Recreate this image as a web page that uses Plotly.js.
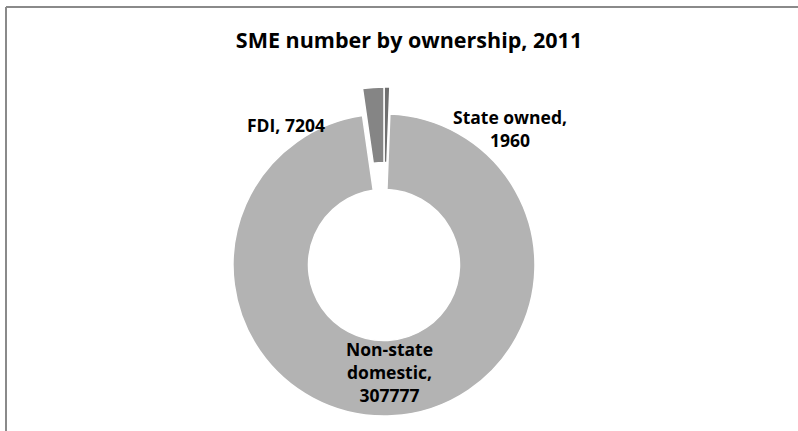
<!DOCTYPE html>
<html>
<head>
<meta charset="utf-8">
<script src="https://cdn.plot.ly/plotly-3.0.1.min.js"></script>
<style>
html,body{margin:0;padding:0;background:#fff;}
#chart{width:798px;height:431px;}
</style>
</head>
<body>
<div id="chart"></div>
<script>
// Data (clockwise from 12 o'clock)
const labels = ['State owned', 'Non-state domestic', 'FDI'];
const values = [1960, 307777, 7204];
const wrappedLabels = ['State owned', 'Non-state<br>domestic', 'FDI'];
const separators = [',<br>', ',<br>', ', '];
const exploded = [true, false, true];
const sliceColors = ['#6f6f6f', '#b3b3b3', '#858585'];

const W = 798, H = 431;
const cx = 384, cy = 265, r = 151, lift = 27;

function domainFor(centerY) {
  return {
    x: [(cx - r) / W, (cx + r) / W],
    y: [(H - centerY - r) / H, (H - centerY + r) / H]
  };
}

const base = {
  type: 'pie',
  labels: labels,
  values: values,
  sort: false,
  direction: 'clockwise',
  rotation: 0,
  hole: 0.5,
  textinfo: 'none',
  hoverinfo: 'label+value',
  showlegend: false
};

// Main ring (non-exploded slice)
const ring = Object.assign({}, base, {
  domain: domainFor(cy),
  marker: {
    colors: sliceColors.map((c, i) => exploded[i] ? 'rgba(0,0,0,0)' : c),
    line: {color: sliceColors.map((c, i) => exploded[i] ? 'rgba(0,0,0,0)' : '#ffffff'), width: 1.5}
  }
});

// Exploded small slices, pulled outward (upward)
const pulled = Object.assign({}, base, {
  domain: domainFor(cy - lift),
  marker: {
    colors: sliceColors.map((c, i) => exploded[i] ? c : 'rgba(0,0,0,0)'),
    line: {color: sliceColors.map((c, i) => exploded[i] ? '#ffffff' : 'rgba(0,0,0,0)'), width: 1.5}
  }
});

const labelPos = [[510, 129], [389, 372], [286, 125]];

const annotations = labels.map((l, i) => ({
  xref: 'paper', yref: 'paper',
  x: labelPos[i][0] / W, y: 1 - labelPos[i][1] / H,
  xanchor: 'center', yanchor: 'middle',
  text: '<b>' + wrappedLabels[i] + separators[i] + values[i] + '</b>',
  showarrow: false,
  font: {family: 'Open Sans, sans-serif', size: 17.5, color: '#000000'},
  align: 'center'
}));

const layout = {
  width: W, height: H,
  margin: {l: 0, r: 0, t: 0, b: 0},
  paper_bgcolor: '#ffffff',
  title: {
    text: '<b>SME number by ownership, 2011</b>',
    x: 409 / W, xanchor: 'center',
    y: 1 - 40 / H, yanchor: 'middle', yref: 'container',
    font: {family: 'Open Sans, sans-serif', size: 21.5, color: '#000000'}
  },
  annotations: annotations,
  shapes: [
    {type: 'line', xref: 'paper', yref: 'paper', x0: 6 / W, x1: 1, y0: 1 - 7 / H, y1: 1 - 7 / H,
     line: {color: '#8a8a8a', width: 2}},
    {type: 'line', xref: 'paper', yref: 'paper', x0: 6 / W, x1: 6 / W, y0: 0, y1: 1 - 7 / H,
     line: {color: '#8a8a8a', width: 2}}
  ]
};

Plotly.newPlot('chart', [ring, pulled], layout, {displayModeBar: false, staticPlot: true});
</script>
</body>
</html>
